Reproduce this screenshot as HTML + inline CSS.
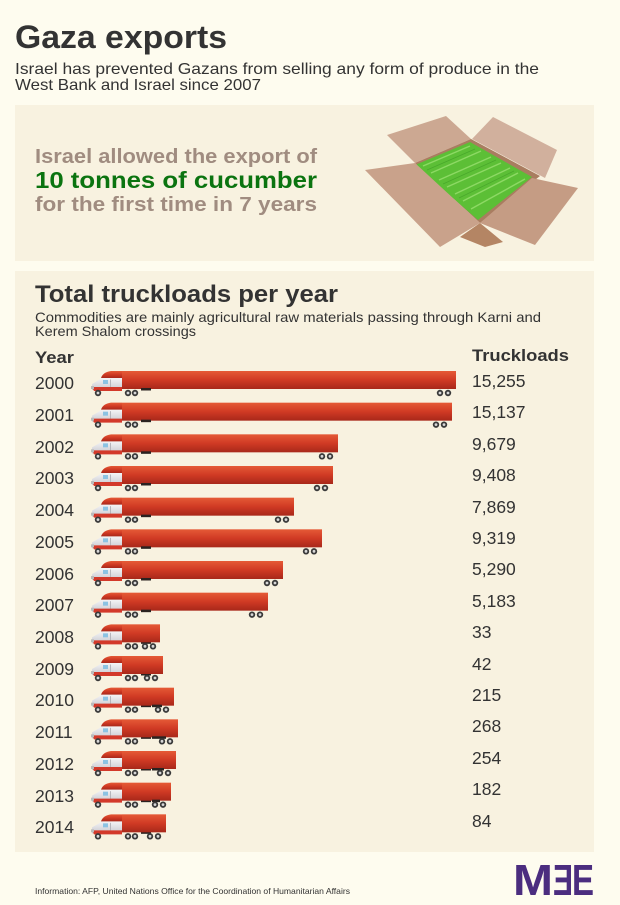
<!DOCTYPE html>
<html><head><meta charset="utf-8"><style>
html,body{margin:0;padding:0;background:#fefcef;}
svg{display:block;}
text{font-family:"Liberation Sans",sans-serif;}
</style></head><body>
<svg width="620" height="905" viewBox="0 0 620 905" xmlns="http://www.w3.org/2000/svg">
<defs>
<linearGradient id="tr" x1="0" y1="0" x2="0" y2="1">
<stop offset="0" stop-color="#e55a36"/>
<stop offset="0.5" stop-color="#d03a24"/>
<stop offset="1" stop-color="#a8281a"/>
</linearGradient>
<linearGradient id="cab" x1="0" y1="0" x2="0" y2="1">
<stop offset="0" stop-color="#f4f4f6"/>
<stop offset="1" stop-color="#c9c9cf"/>
</linearGradient>
<g id="wh"><circle r="3.2" fill="#3a3a3a"/><circle r="1.4" fill="#d8d8d8"/></g>
<g id="cabg">
<path d="M1,13 L8,9 L10,7 L31,7 L31,19 L1,19 Z" fill="url(#cab)"/>
<path d="M31,0 L20,0 Q12,1 10,7 L31,7 Z" fill="url(#tr)"/>
<rect x="12" y="9" width="5" height="4" fill="#8cc3e3"/>
<rect x="19" y="8.5" width="1" height="10" fill="#b5b5bb"/>
<path d="M1,16 L31,16 L31,20 L3,20 Z" fill="#d3392a"/>
<rect x="0" y="15" width="3" height="3" fill="#bbb"/>
<rect x="50" y="17" width="10" height="2.5" fill="#2a2220"/>
<use href="#wh" x="7" y="22"/>
<use href="#wh" x="37" y="22"/>
<use href="#wh" x="44" y="22"/>
</g>
</defs>
<rect width="620" height="905" fill="#fefcef"/>
<text x="15" y="48" font-size="32" font-weight="bold" fill="#333" textLength="212" lengthAdjust="spacingAndGlyphs">Gaza exports</text>
<text x="15" y="74" font-size="16" fill="#333" textLength="524" lengthAdjust="spacingAndGlyphs">Israel has prevented Gazans from selling any form of produce in the</text>
<text x="15" y="90" font-size="16" fill="#333" textLength="246" lengthAdjust="spacingAndGlyphs">West Bank and Israel since 2007</text>

<rect x="15" y="105" width="579" height="156" fill="#f8f2e0"/>
<text x="35" y="163" font-size="20" font-weight="bold" fill="#a08c80" textLength="282" lengthAdjust="spacingAndGlyphs">Israel allowed the export of</text>
<text x="35" y="188" font-size="23" font-weight="bold" fill="#0b7410" textLength="282" lengthAdjust="spacingAndGlyphs">10 tonnes of cucumber</text>
<text x="35" y="211" font-size="20" font-weight="bold" fill="#a08c80" textLength="282" lengthAdjust="spacingAndGlyphs">for the first time in 7 years</text>

<!-- box -->
<polygon points="387,135 446,116 471,139 415,163" fill="#cca892"/>
<polygon points="472,139 493,117 557,150 545,178" fill="#d1b09d"/>
<polygon points="415,163 471,139 540,176 480,223" fill="#a97d60"/>
<polygon points="415,165 470,142 532,177 478,220" fill="#5cbf36"/>
<g stroke="#9ae070" stroke-width="1.4" opacity="0.8">
<line x1="423" y1="166" x2="470" y2="146"/>
<line x1="431" y1="173" x2="481" y2="151"/>
<line x1="439" y1="180" x2="491" y2="157"/>
<line x1="447" y1="187" x2="501" y2="163"/>
<line x1="455" y1="194" x2="510" y2="168"/>
<line x1="463" y1="201" x2="518" y2="173"/>
<line x1="471" y1="209" x2="525" y2="179"/>
</g>
<g stroke="#3d9a25" stroke-width="0.8" opacity="0.6">
<line x1="427" y1="170" x2="475" y2="149"/>
<line x1="443" y1="184" x2="496" y2="160"/>
<line x1="459" y1="198" x2="514" y2="171"/>
</g>
<polygon points="460,237 480,223 503,242 485,247" fill="#b48564"/>
<polygon points="365,170 415,163 480,223 440,247" fill="#c9a28b"/>
<polygon points="532,178 578,188 535,245 480,223" fill="#c59c84"/>

<rect x="15" y="271" width="579" height="581" fill="#f8f2e0"/>
<text x="35" y="302" font-size="24" font-weight="bold" fill="#333" textLength="303" lengthAdjust="spacingAndGlyphs">Total truckloads per year</text>
<text x="35" y="322" font-size="14" fill="#333" textLength="506" lengthAdjust="spacingAndGlyphs">Commodities are mainly agricultural raw materials passing through Karni and</text>
<text x="35" y="336" font-size="14" fill="#333" textLength="161" lengthAdjust="spacingAndGlyphs">Kerem Shalom crossings</text>
<text x="35" y="363" font-size="17" font-weight="bold" fill="#333" textLength="39" lengthAdjust="spacingAndGlyphs">Year</text>
<text x="472" y="361" font-size="17" font-weight="bold" fill="#333" textLength="97" lengthAdjust="spacingAndGlyphs">Truckloads</text>

<g font-size="17.5" fill="#333">
<text x="35" y="389">2000</text>
<text x="35" y="421">2001</text>
<text x="35" y="453">2002</text>
<text x="35" y="484">2003</text>
<text x="35" y="516">2004</text>
<text x="35" y="548">2005</text>
<text x="35" y="580">2006</text>
<text x="35" y="611">2007</text>
<text x="35" y="643">2008</text>
<text x="35" y="675">2009</text>
<text x="35" y="706">2010</text>
<text x="35" y="738">2011</text>
<text x="35" y="770">2012</text>
<text x="35" y="802">2013</text>
<text x="35" y="833">2014</text>
</g>
<g font-size="17.5" fill="#333">
<text x="472" y="387">15,255</text>
<text x="472" y="418">15,137</text>
<text x="472" y="450">9,679</text>
<text x="472" y="481">9,408</text>
<text x="472" y="513">7,869</text>
<text x="472" y="544">9,319</text>
<text x="472" y="575">5,290</text>
<text x="472" y="607">5,183</text>
<text x="472" y="638">33</text>
<text x="472" y="670">42</text>
<text x="472" y="701">215</text>
<text x="472" y="732">268</text>
<text x="472" y="764">254</text>
<text x="472" y="795">182</text>
<text x="472" y="827">84</text>
</g>

<!-- trucks -->
<g transform="translate(91,371)"><rect x="31" y="0" width="334" height="18" fill="url(#tr)"/><use href="#cabg"/><use href="#wh" x="349" y="22"/><use href="#wh" x="357" y="22"/></g>
<g transform="translate(91,402.67)"><rect x="31" y="0" width="330" height="18" fill="url(#tr)"/><use href="#cabg"/><use href="#wh" x="345" y="22"/><use href="#wh" x="353" y="22"/></g>
<g transform="translate(91,434.33)"><rect x="31" y="0" width="216" height="18" fill="url(#tr)"/><use href="#cabg"/><use href="#wh" x="231" y="22"/><use href="#wh" x="239" y="22"/></g>
<g transform="translate(91,466)"><rect x="31" y="0" width="211" height="18" fill="url(#tr)"/><use href="#cabg"/><use href="#wh" x="226" y="22"/><use href="#wh" x="234" y="22"/></g>
<g transform="translate(91,497.67)"><rect x="31" y="0" width="172" height="18" fill="url(#tr)"/><use href="#cabg"/><use href="#wh" x="187" y="22"/><use href="#wh" x="195" y="22"/></g>
<g transform="translate(91,529.33)"><rect x="31" y="0" width="200" height="18" fill="url(#tr)"/><use href="#cabg"/><use href="#wh" x="215" y="22"/><use href="#wh" x="223" y="22"/></g>
<g transform="translate(91,561)"><rect x="31" y="0" width="161" height="18" fill="url(#tr)"/><use href="#cabg"/><use href="#wh" x="176" y="22"/><use href="#wh" x="184" y="22"/></g>
<g transform="translate(91,592.67)"><rect x="31" y="0" width="146" height="18" fill="url(#tr)"/><use href="#cabg"/><use href="#wh" x="161" y="22"/><use href="#wh" x="169" y="22"/></g>
<g transform="translate(91,624.33)"><use href="#cabg"/><rect x="31" y="0" width="38" height="18" fill="url(#tr)"/><use href="#wh" x="54" y="22"/><use href="#wh" x="62" y="22"/></g>
<g transform="translate(91,656)"><use href="#cabg"/><rect x="31" y="0" width="41" height="18" fill="url(#tr)"/><use href="#wh" x="56" y="22"/><use href="#wh" x="64" y="22"/></g>
<g transform="translate(91,687.67)"><use href="#cabg"/><rect x="31" y="0" width="52" height="18" fill="url(#tr)"/><rect x="61" y="17" width="10" height="2.5" fill="#2a2220"/><use href="#wh" x="67" y="22"/><use href="#wh" x="75" y="22"/></g>
<g transform="translate(91,719.33)"><use href="#cabg"/><rect x="31" y="0" width="56" height="18" fill="url(#tr)"/><rect x="61" y="17" width="14" height="2.5" fill="#2a2220"/><use href="#wh" x="71" y="22"/><use href="#wh" x="79" y="22"/></g>
<g transform="translate(91,751)"><use href="#cabg"/><rect x="31" y="0" width="54" height="18" fill="url(#tr)"/><rect x="61" y="17" width="12" height="2.5" fill="#2a2220"/><use href="#wh" x="69" y="22"/><use href="#wh" x="77" y="22"/></g>
<g transform="translate(91,782.67)"><use href="#cabg"/><rect x="31" y="0" width="49" height="18" fill="url(#tr)"/><rect x="61" y="17" width="8" height="2.5" fill="#2a2220"/><use href="#wh" x="64" y="22"/><use href="#wh" x="72" y="22"/></g>
<g transform="translate(91,814.33)"><use href="#cabg"/><rect x="31" y="0" width="44" height="18" fill="url(#tr)"/><use href="#wh" x="59" y="22"/><use href="#wh" x="67" y="22"/></g>

<text x="35" y="894" font-size="8.5" fill="#333" textLength="315" lengthAdjust="spacingAndGlyphs">Information: AFP, United Nations Office for the Coordination of Humanitarian Affairs</text>
<g fill="#4b2d7f" font-weight="bold" font-size="44">
<text x="513" y="895" textLength="40" lengthAdjust="spacingAndGlyphs">M</text>
<text transform="translate(1126,0) scale(-1,1)" x="553" y="895" textLength="20" lengthAdjust="spacingAndGlyphs">E</text>
<text x="572" y="895" textLength="22" lengthAdjust="spacingAndGlyphs">E</text>
</g>
</svg>
</body></html>
